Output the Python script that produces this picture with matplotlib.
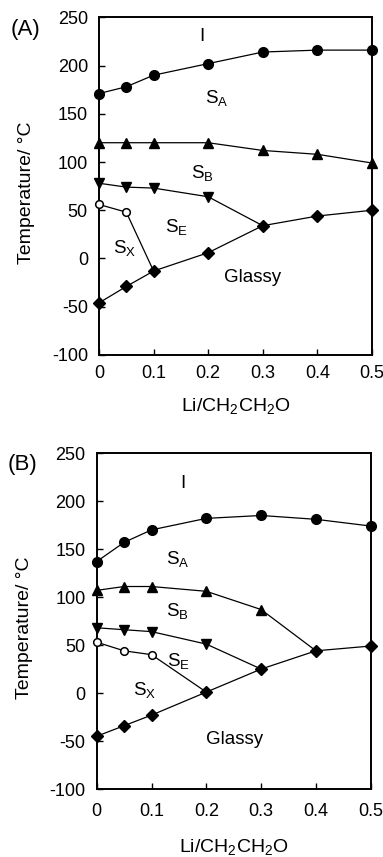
import matplotlib
matplotlib.use("Agg")
import matplotlib.pyplot as plt

plt.rcParams['font.family'] = ['Liberation Sans', 'DejaVu Sans']
plt.rcParams['mathtext.fontset'] = 'custom'
plt.rcParams['mathtext.rm'] = 'Liberation Sans'
plt.rcParams['mathtext.it'] = 'Liberation Sans'
plt.rcParams['axes.unicode_minus'] = False

# ---- data: panel A ----
xA = [0, 0.05, 0.1, 0.2, 0.3, 0.4, 0.5]
A_circle = [171, 178, 190, 202, 214, 216, 216]      # I / SA
A_tri_up = [120, 120, 120, 120, 112, 108, 99]       # SA / SB
A_tri_dn_x = [0, 0.05, 0.1, 0.2]
A_tri_dn = [78, 74, 73, 64]                          # SB / SE
A_open_x = [0, 0.05]
A_open = [56, 48]                                    # SX / SE
A_diamond = [-46, -29, -13, 6, 34, 44, 50]           # glassy

# ---- data: panel B ----
xB = [0, 0.05, 0.1, 0.2, 0.3, 0.4, 0.5]
B_circle = [137, 157, 170, 182, 185, 181, 174]
B_tri_up_x = [0, 0.05, 0.1, 0.2, 0.3]
B_tri_up = [107, 111, 111, 106, 87]
B_tri_dn_x = [0, 0.05, 0.1, 0.2]
B_tri_dn = [68, 66, 64, 51]
B_open_x = [0, 0.05, 0.1]
B_open = [53, 44, 40]
B_diamond = [-45, -34, -23, 1, 25, 44, 49]

yticks = [-100, -50, 0, 50, 100, 150, 200, 250]
xticks = [0, 0.1, 0.2, 0.3, 0.4, 0.5]
xticklabels = ['0', '0.1', '0.2', '0.3', '0.4', '0.5']

fig = plt.figure(figsize=(3.83, 8.57), dpi=100)
axA = fig.add_axes([0.2585, 0.5858, 0.7125, 0.394])
axB = fig.add_axes([0.2525, 0.0793, 0.7155, 0.392])

lw = 0.9
ms = 7
FS = 13


def panel(ax, x, circ, tu_x, tu, td_x, td, op_x, op, dia, tu_end, td_end, op_end,
          labels, tag, tagx, ylx, xly, xpad):
    k = 'k'
    ax.plot(x, circ, '-', color=k, lw=lw, marker='o', ms=ms, clip_on=False, zorder=3)
    # SA/SB line
    ax.plot(list(tu_x) + ([tu_end] if tu_end is not None else []),
            list(tu) + ([dia[x.index(tu_end)]] if tu_end is not None else []),
            '-', color=k, lw=lw, clip_on=False, zorder=2)
    ax.plot(tu_x, tu, ls='none', color=k, marker='^', ms=ms, clip_on=False, zorder=3)
    # SB/SE line
    ax.plot(list(td_x) + [td_end], list(td) + [dia[x.index(td_end)]],
            '-', color=k, lw=lw, clip_on=False, zorder=2)
    ax.plot(td_x, td, ls='none', color=k, marker='v', ms=ms, clip_on=False, zorder=3)
    # SX/SE line
    ax.plot(list(op_x) + [op_end], list(op) + [dia[x.index(op_end)]],
            '-', color=k, lw=lw, clip_on=False, zorder=2)
    ax.plot(op_x, op, ls='none', marker='o', ms=5.5, mfc='white', mec=k, mew=1.1,
            clip_on=False, zorder=3)
    ax.plot(x, dia, '-', color=k, lw=lw, marker='D', ms=6.2, clip_on=False, zorder=3)

    ax.set_xlim(0, 0.5)
    ax.set_ylim(-100, 250)
    ax.set_yticks(yticks)
    ax.set_xticks(xticks)
    ax.set_xticklabels(xticklabels)
    ax.tick_params(direction='in', length=4, width=1, labelsize=FS)
    ax.tick_params(axis='y', pad=8)
    ax.tick_params(axis='x', pad=xpad)
    for s in ax.spines.values():
        s.set_linewidth(1.4)
    ax.set_ylabel('Temperature/ °C', fontsize=14)
    ax.yaxis.set_label_coords(ylx, 0.48)
    ax.set_xlabel(r'Li/CH$_2$CH$_2$O', fontsize=14)
    ax.xaxis.set_label_coords(0.5, xly)
    for (tx, ty, t) in labels:
        ax.text(tx, ty, t, fontsize=13.5, ha='center', va='center')
    ax.text(tagx, 0.965, tag, transform=ax.transAxes, fontsize=16, ha='center', va='center')


panel(axA, xA, A_circle, xA, A_tri_up, A_tri_dn_x, A_tri_dn, A_open_x, A_open, A_diamond,
      None, 0.3, 0.1,
      [(0.189, 230, 'I'), (0.215, 166, r'S$_\mathregular{A}$'), (0.19, 89, r'S$_\mathregular{B}$'),
       (0.142, 33, r'S$_\mathregular{E}$'), (0.047, 11, r'S$_\mathregular{X}$'), (0.282, -20, 'Glassy')],
      '(A)', -0.27, -0.234, -0.122, 7)
panel(axB, xB, B_circle, B_tri_up_x, B_tri_up, B_tri_dn_x, B_tri_dn, B_open_x, B_open, B_diamond,
      0.4, 0.3, 0.2,
      [(0.157, 218, 'I'), (0.147, 140, r'S$_\mathregular{A}$'), (0.147, 85, r'S$_\mathregular{B}$'),
       (0.15, 33, r'S$_\mathregular{E}$'), (0.088, 3, r'S$_\mathregular{X}$'), (0.252, -48, 'Glassy')],
      '(B)', -0.27, -0.232, -0.142, 10)

fig.savefig('out.png', dpi=100)
